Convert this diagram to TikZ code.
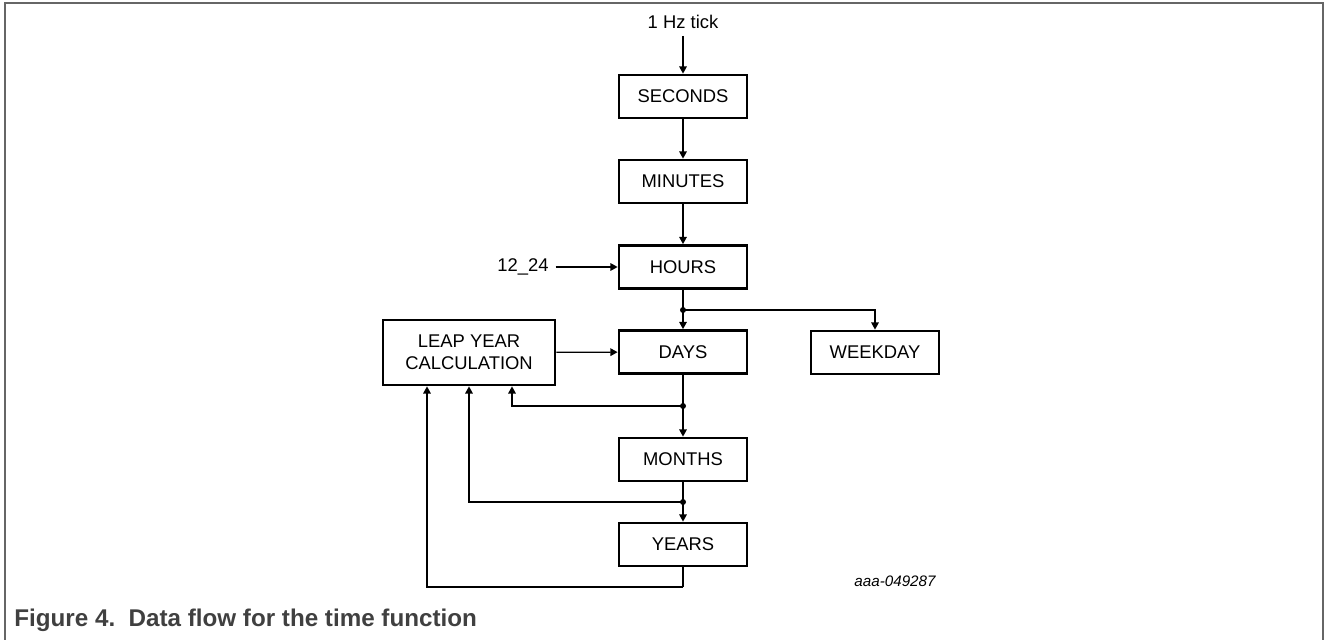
\documentclass[tikz,border=0pt]{standalone}
\usepackage{fontspec}
\setmainfont{Liberation Sans}
\usetikzlibrary{arrows.meta}
\definecolor{framegray}{HTML}{666666}
\definecolor{capgray}{HTML}{404040}

\begin{document}
\begin{tikzpicture}[x=0.5pt, y=-0.5pt,
  every node/.style={font=\fontsize{9.2}{11}\selectfont},
  block/.style={draw=black, line width=1.4pt, minimum width=64pt,
    minimum height=21.5pt, inner sep=0pt},
  flow/.style={line width=0.65pt, -{Triangle[length=3.6pt,width=3.8pt]}},
  link/.style={line width=0.65pt},
  dot/.style={circle, fill=black, inner sep=0pt, minimum size=3pt}]
  \def\cx{683}
  \def\lx{469}

  \useasboundingbox (0,0) rectangle (1326,640);
  \draw[framegray, line width=1pt] (5,640) -- (5,3) -- (1323,3) -- (1323,640);

  \node[block] (SEC) at (\cx, 96.5) {SECONDS};
  \node[block] (MIN) at (\cx, 181.5) {MINUTES};
  \node[block] (HRS) at (\cx, 267) {HOURS};
  \node[block] (DAY) at (\cx, 352) {DAYS};
  \node[block] (MON) at (\cx, 459.5) {MONTHS};
  \node[block] (YRS) at (\cx, 544.5) {YEARS};
  \node[block] (WKD) at (875, 352.5) {WEEKDAY};
  \node[block, minimum width=86pt, minimum height=32.5pt, align=center]
    (LEAP) at (\lx, 352.5) {LEAP YEAR\\CALCULATION};

  \node (tick) at (\cx, 22) {1 Hz tick};
  \node (mode) at (523, 267) {12\_24};

  \coordinate (j1) at (\cx, 310);
  \coordinate (j2) at (\cx, 406);
  \coordinate (j3) at (\cx, 502);
  \coordinate (yb) at (\cx, 587);

  \draw[flow] (tick) -- (SEC);
  \draw[flow] (SEC) -- (MIN);
  \draw[flow] (MIN) -- (HRS);
  \draw[flow] (mode) -- (HRS);
  \draw[link] (HRS) -- (j1);
  \draw[flow] (j1) -- (DAY);
  \draw[flow] (j1) -| (WKD);
  \draw[flow] (LEAP) -- (DAY);
  \draw[link] (DAY) -- (j2);
  \draw[flow] (j2) -- (MON);
  \draw[flow] (j2) -| ([xshift=21.5pt]LEAP.south);
  \draw[link] (MON) -- (j3);
  \draw[flow] (j3) -- (YRS);
  \draw[flow] (j3) -| (LEAP);
  \draw[link] (YRS) -- (yb);
  \draw[flow] (yb) -| ([xshift=-21pt]LEAP.south);

  \node[dot] (d1) at (j1) {};
  \node[dot] (d2) at (j2) {};
  \node[dot] (d3) at (j3) {};

  \node[font=\fontsize{7.6}{9}\selectfont\itshape] (code) at (895, 581) {aaa-049287};
  \node[anchor=west, inner sep=0pt, text=capgray,
    font=\fontsize{12.1}{14}\selectfont\bfseries] (cap) at (14, 620)
    {Figure 4.~~Data flow for the time function};
\end{tikzpicture}
\end{document}
